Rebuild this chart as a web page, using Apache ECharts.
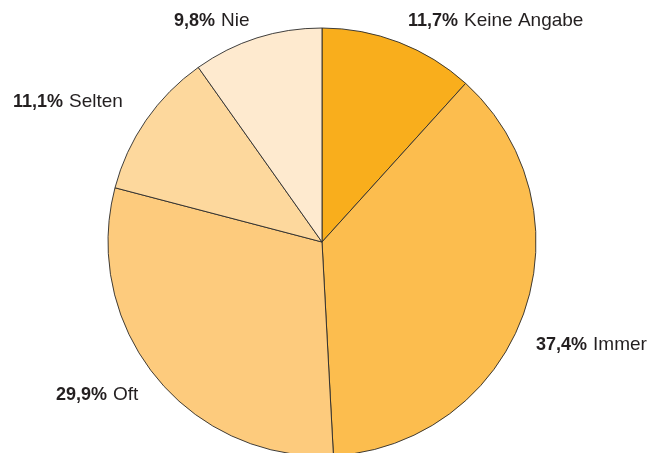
<!DOCTYPE html>
<html><head><meta charset="utf-8">
<script src="https://cdn.jsdelivr.net/npm/echarts@6/dist/echarts.min.js"></script>
<style>html,body{margin:0;padding:0;background:#fff}#c{width:653px;height:453px}</style>
</head><body><div id="c"></div>
<script>
const categories = ['Keine Angabe', 'Immer', 'Oft', 'Selten', 'Nie'];
const values = [11.7, 37.4, 29.9, 11.1, 9.8];
const pctLabels = ['11,7%', '37,4%', '29,9%', '11,1%', '9,8%'];
const colors = ['#F9AE1C', '#FCBD4E', '#FDCB7D', '#FDD89D', '#FEEACF'];
const labelPos = [[408, 21], [536, 345], [56, 395], [13, 102], [174, 21]];

const chart = echarts.init(document.getElementById('c'), null, {renderer: 'canvas'});
chart.setOption({
  animation: false,
  series: [{
    type: 'pie',
    center: [322, 242],
    radius: 214,
    startAngle: 90,
    clockwise: true,
    avoidLabelOverlap: false,
    itemStyle: {borderColor: '#2a2a2a', borderWidth: 0.9},
    emphasis: {disabled: true},
    labelLine: {show: false},
    label: {
      show: true,
      position: 'outside',
      formatter: p => '{b|' + pctLabels[p.dataIndex] + '}{n|' + p.name + '}',
      rich: {
        b: {fontFamily: 'Liberation Sans', fontWeight: 'bold', fontSize: 18, color: '#231F20'},
        n: {fontFamily: 'Liberation Sans', fontSize: 19, color: '#231F20', padding: [0, 0, 0, 6]}
      }
    },
    labelLayout: p => ({x: labelPos[p.dataIndex][0], y: labelPos[p.dataIndex][1], align: 'left', verticalAlign: 'middle'}),
    data: categories.map((c, i) => ({name: c, value: values[i], itemStyle: {color: colors[i]}}))
  }]
});
</script></body></html>
